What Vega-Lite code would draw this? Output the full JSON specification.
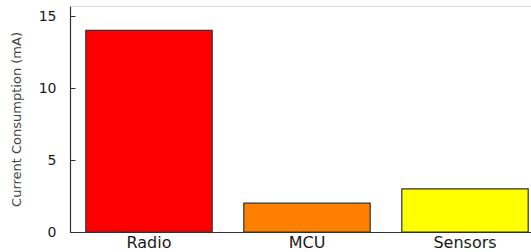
{
  "$schema": "https://vega.github.io/schema/vega-lite/v6.json",
  "autosize": "none",
  "width": 461,
  "height": 226,
  "padding": {"left": 70, "top": 6, "right": 0, "bottom": 20},
  "background": "white",
  "data": {"values": [
    {"component": "Radio", "current": 14, "color": "#ff0000"},
    {"component": "MCU", "current": 2, "color": "#ff8000"},
    {"component": "Sensors", "current": 3, "color": "#ffff00"}
  ]},
  "mark": {"type": "bar", "stroke": "#333333", "strokeWidth": 1.2},
  "encoding": {
    "x": {
      "field": "component", "type": "nominal", "sort": null,
      "scale": {"range": [0, 474], "paddingInner": 0.2, "paddingOuter": 0.1},
      "axis": {"title": null, "labelAngle": 0, "ticks": false, "labelFont": "DejaVu Sans", "labelFontSize": 16, "labelColor": "#1a1a1a", "labelPadding": 2, "domainColor": "#333333", "domainWidth": 1.2}
    },
    "y": {
      "field": "current", "type": "quantitative",
      "scale": {"domain": [0, 15.7], "nice": false},
      "axis": {"title": "Current Consumption (mA)", "values": [0, 5, 10, 15], "grid": false, "tickSize": -5, "tickColor": "#333333", "domainColor": "#333333", "domainWidth": 1.2, "labelFont": "DejaVu Sans", "labelFontSize": 14, "labelColor": "#1a1a1a", "labelPadding": 19, "titleFont": "DejaVu Sans", "titleFontSize": 13, "titleFontWeight": "normal", "titleColor": "#444444", "titleX": -54, "titleBaseline": "middle", "titlePadding": 0}
    },
    "color": {"field": "color", "type": "nominal", "scale": null, "legend": null}
  }
}
